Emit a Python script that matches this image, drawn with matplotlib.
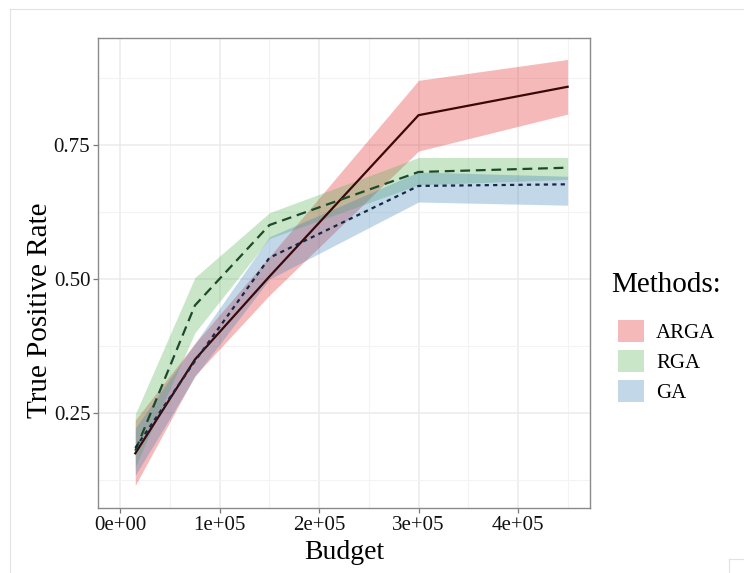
import matplotlib
matplotlib.use("Agg")
import matplotlib.pyplot as plt
from matplotlib.patches import Patch
from matplotlib.lines import Line2D

plt.rcParams['font.family'] = ['Liberation Serif', 'DejaVu Serif']

# budget levels
budget = [15000, 75000, 150000, 300000, 450000]

# mean true positive rate and ribbon bounds per method
arga_mean = [0.175, 0.350, 0.505, 0.806, 0.859]
arga_lo = [0.115, 0.320, 0.470, 0.739, 0.808]
arga_hi = [0.237, 0.380, 0.542, 0.871, 0.910]

rga_mean = [0.180, 0.451, 0.601, 0.700, 0.708]
rga_lo = [0.150, 0.400, 0.576, 0.676, 0.686]
rga_hi = [0.248, 0.503, 0.624, 0.727, 0.727]

ga_mean = [0.185, 0.347, 0.540, 0.674, 0.677]
ga_lo = [0.134, 0.318, 0.500, 0.644, 0.638]
ga_hi = [0.222, 0.380, 0.579, 0.700, 0.692]

metodos = ['ARGA', 'RGA', 'GA']
cores_fill = {'ARGA': '#E41A1C', 'RGA': '#4DAF4A', 'GA': '#377EB8'}
cores_linha = {'ARGA': '#3a0808', 'RGA': '#1c4a2a', 'GA': '#172844'}
estilos = {'ARGA': '-', 'RGA': (0, (4.4, 2.6)), 'GA': (0, (1.9, 1.9))}

series = {
    'ARGA': (arga_mean, arga_lo, arga_hi),
    'RGA': (rga_mean, rga_lo, rga_hi),
    'GA': (ga_mean, ga_lo, ga_hi),
}

fig = plt.figure(figsize=(7.44, 5.73), dpi=100, facecolor='white')
ax = fig.add_axes([98 / 744, 1 - 508 / 573, 492 / 744, 470 / 573])

# ribbons
for m in metodos:
    media, lo, hi = series[m]
    ax.fill_between(budget, lo, hi, color=cores_fill[m], alpha=0.3, linewidth=0, zorder=2)

# lines
for m in metodos:
    media, lo, hi = series[m]
    ax.plot(budget, media, color=cores_linha[m], lw=1.6, linestyle=estilos[m], zorder=4)

ax.set_xlim(-22500, 472500)
ax.set_ylim(0.073, 0.95)

ax.set_xticks([0, 100000, 200000, 300000, 400000])
ax.set_xticklabels(['0e+00', '1e+05', '2e+05', '3e+05', '4e+05'])
ax.set_xticks([50000, 150000, 250000, 350000, 450000], minor=True)
ax.set_yticks([0.25, 0.50, 0.75])
ax.set_yticklabels(['0.25', '0.50', '0.75'])
ax.set_yticks([0.125, 0.375, 0.625, 0.875], minor=True)

ax.grid(which='major', color='#ebebeb', lw=1.1, zorder=0)
ax.grid(which='minor', color='#f3f3f3', lw=0.8, zorder=0)
ax.set_axisbelow(True)

ax.tick_params(which='major', length=3.5, width=0.9, color='#7a7a7a',
               labelsize=15, labelcolor='#111111', pad=2)
ax.tick_params(which='minor', length=0)
for s in ax.spines.values():
    s.set_color('#8a8a8a')
    s.set_linewidth(1.0)

ax.set_xlabel('Budget', fontsize=20, labelpad=4)
ax.set_ylabel('True Positive Rate', fontsize=21)
# y label sits a bit lower than the panel centre in the original
ax.yaxis.set_label_coords(-0.092, 0.42)

# legend
fig.text(611 / 744, 1 - 285 / 573, 'Methods:', fontsize=21, ha='left', va='center')
handles = [Patch(facecolor=cores_fill[m], alpha=0.3, edgecolor='none') for m in metodos]
leg = fig.legend(handles, metodos, loc='upper left',
                 bbox_to_anchor=(608 / 744, 1 - 310 / 573), frameon=False,
                 fontsize=15, handlelength=1.25, handleheight=1.25,
                 labelspacing=0.33, handletextpad=0.55, borderpad=0)

# faint frame of the original image
cinza = '#e2e2e2'
fig.add_artist(Line2D([10 / 744, 1], [1 - 9 / 573, 1 - 9 / 573], color=cinza, lw=0.8, transform=fig.transFigure))
fig.add_artist(Line2D([10 / 744, 10 / 744], [1 - 9 / 573, 0], color=cinza, lw=0.8, transform=fig.transFigure))
fig.add_artist(Line2D([729 / 744, 1], [1 - 559 / 573, 1 - 559 / 573], color=cinza, lw=0.8, transform=fig.transFigure))
fig.add_artist(Line2D([729 / 744, 729 / 744], [1 - 559 / 573, 0], color=cinza, lw=0.8, transform=fig.transFigure))

fig.savefig('out.png', dpi=100)
